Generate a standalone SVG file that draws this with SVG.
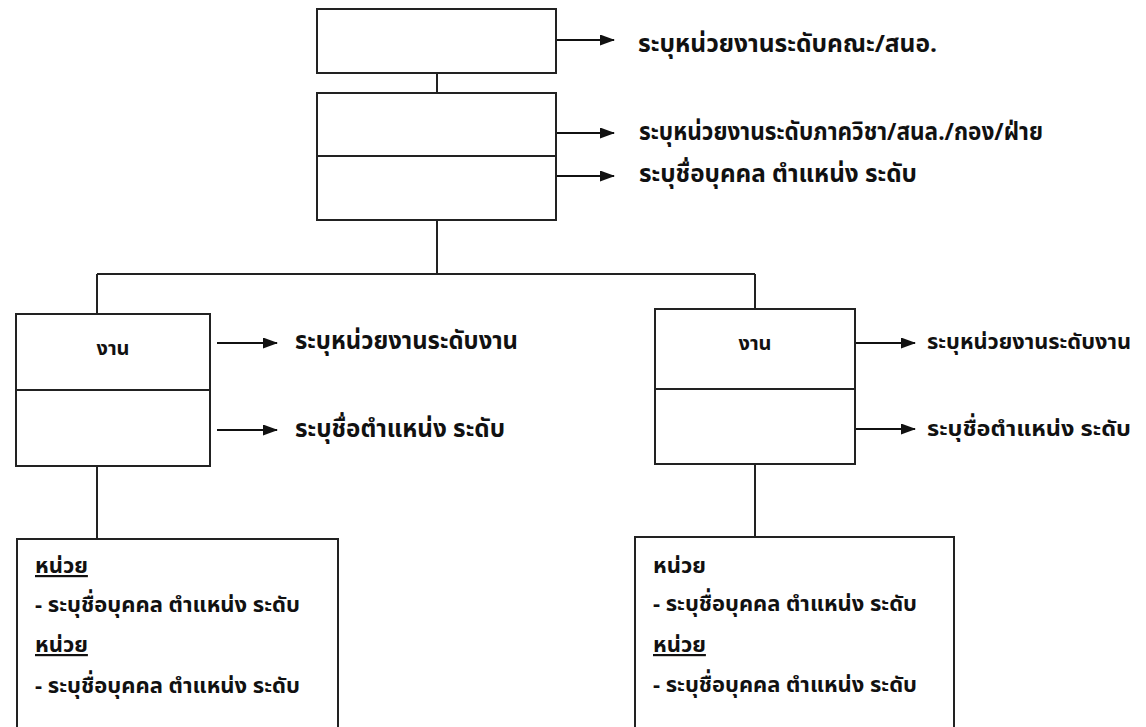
<svg xmlns="http://www.w3.org/2000/svg" width="1146" height="727" viewBox="0 0 1146 727">
<style>
.box{fill:#fff;stroke:#222;stroke-width:2}
.ln{fill:none;stroke:#222;stroke-width:2}
.arr{fill:none;stroke:#111;stroke-width:2;marker-end:url(#ah)}
.t{font-family:"Noto Sans Thai","Noto Sans","DejaVu Sans",sans-serif;font-size:24px;fill:#111;font-weight:bold}
.r{font-family:"Noto Sans Thai","Noto Sans","DejaVu Sans",sans-serif;font-size:22px;fill:#111;font-weight:bold}
.b{font-family:"Noto Sans Thai","Noto Sans","DejaVu Sans",sans-serif;font-size:22px;fill:#111;font-weight:bold}
.s{font-family:"Noto Sans Thai","Noto Sans","DejaVu Sans",sans-serif;font-size:20px;fill:#111;font-weight:bold}
</style>
<defs>
<marker id="ah" markerWidth="15" markerHeight="11" refX="14" refY="5.5" orient="auto" markerUnits="userSpaceOnUse">
<path d="M0,0 L15,5.5 L0,11 Z" fill="#111"/>
</marker>
</defs>
<rect width="1146" height="727" fill="#fff"/>
<g id="connectors">
<line class="ln" x1="437" y1="73" x2="437" y2="93"/>
<line class="ln" x1="437" y1="220" x2="437" y2="274"/>
<line class="ln" x1="97" y1="274" x2="755" y2="274"/>
<line class="ln" x1="97" y1="274" x2="97" y2="314"/>
<line class="ln" x1="755" y1="274" x2="755" y2="309"/>
<line class="ln" x1="97" y1="466" x2="97" y2="539"/>
<line class="ln" x1="755" y1="464" x2="755" y2="537"/>
<line class="arr" x1="557" y1="40" x2="614" y2="40"/>
<line class="arr" x1="557" y1="133" x2="614" y2="133"/>
<line class="arr" x1="557" y1="176" x2="614" y2="176"/>
<line class="arr" x1="217" y1="343" x2="277" y2="343"/>
<line class="arr" x1="217" y1="430" x2="277" y2="430"/>
<line class="arr" x1="856" y1="343" x2="915" y2="343"/>
<line class="arr" x1="856" y1="429" x2="915" y2="429"/>
</g>
<g id="n-faculty">
<rect class="box" x="317" y="9" width="239" height="64"/>
<text class="t" x="638" y="52" textLength="299" lengthAdjust="spacingAndGlyphs">ระบุหน่วยงานระดับคณะ/สนอ.</text>
</g>
<g id="n-department">
<rect class="box" x="317" y="93" width="239" height="127"/>
<line class="ln" x1="317" y1="156" x2="556" y2="156"/>
<text class="t" x="639" y="140" textLength="404" lengthAdjust="spacingAndGlyphs">ระบุหน่วยงานระดับภาควิชา/สนล./กอง/ฝ่าย</text>
<text class="t" x="639" y="182" textLength="278" lengthAdjust="spacingAndGlyphs">ระบุชื่อบุคคล ตำแหน่ง ระดับ</text>
</g>
<g id="n-work-left">
<rect class="box" x="16" y="314" width="194" height="152"/>
<line class="ln" x1="16" y1="390" x2="210" y2="390"/>
<text class="s" x="113" y="355" text-anchor="middle">งาน</text>
<text class="t" x="295" y="349" textLength="223" lengthAdjust="spacingAndGlyphs">ระบุหน่วยงานระดับงาน</text>
<text class="t" x="295" y="437" textLength="210" lengthAdjust="spacingAndGlyphs">ระบุชื่อตำแหน่ง ระดับ</text>
</g>
<g id="n-work-right">
<rect class="box" x="655" y="309" width="200" height="155"/>
<line class="ln" x1="655" y1="389" x2="855" y2="389"/>
<text class="s" x="755" y="350" text-anchor="middle">งาน</text>
<text class="r" x="927" y="349" textLength="204" lengthAdjust="spacingAndGlyphs">ระบุหน่วยงานระดับงาน</text>
<text class="r" x="927" y="436" textLength="204" lengthAdjust="spacingAndGlyphs">ระบุชื่อตำแหน่ง ระดับ</text>
</g>
<g id="n-units-left">
<rect class="box" x="17" y="539" width="321" height="200"/>
<text class="b" x="35" y="573" text-decoration="underline">หน่วย</text>
<text class="b" x="35" y="612" textLength="265" lengthAdjust="spacingAndGlyphs">- ระบุชื่อบุคคล ตำแหน่ง ระดับ</text>
<text class="b" x="35" y="652" text-decoration="underline">หน่วย</text>
<text class="b" x="35" y="693" textLength="265" lengthAdjust="spacingAndGlyphs">- ระบุชื่อบุคคล ตำแหน่ง ระดับ</text>
</g>
<g id="n-units-right">
<rect class="box" x="635" y="537" width="319" height="200"/>
<text class="b" x="653" y="573">หน่วย</text>
<text class="b" x="653" y="611" textLength="264" lengthAdjust="spacingAndGlyphs">- ระบุชื่อบุคคล ตำแหน่ง ระดับ</text>
<text class="b" x="653" y="652" text-decoration="underline">หน่วย</text>
<text class="b" x="653" y="692" textLength="264" lengthAdjust="spacingAndGlyphs">- ระบุชื่อบุคคล ตำแหน่ง ระดับ</text>
</g>
</svg>
